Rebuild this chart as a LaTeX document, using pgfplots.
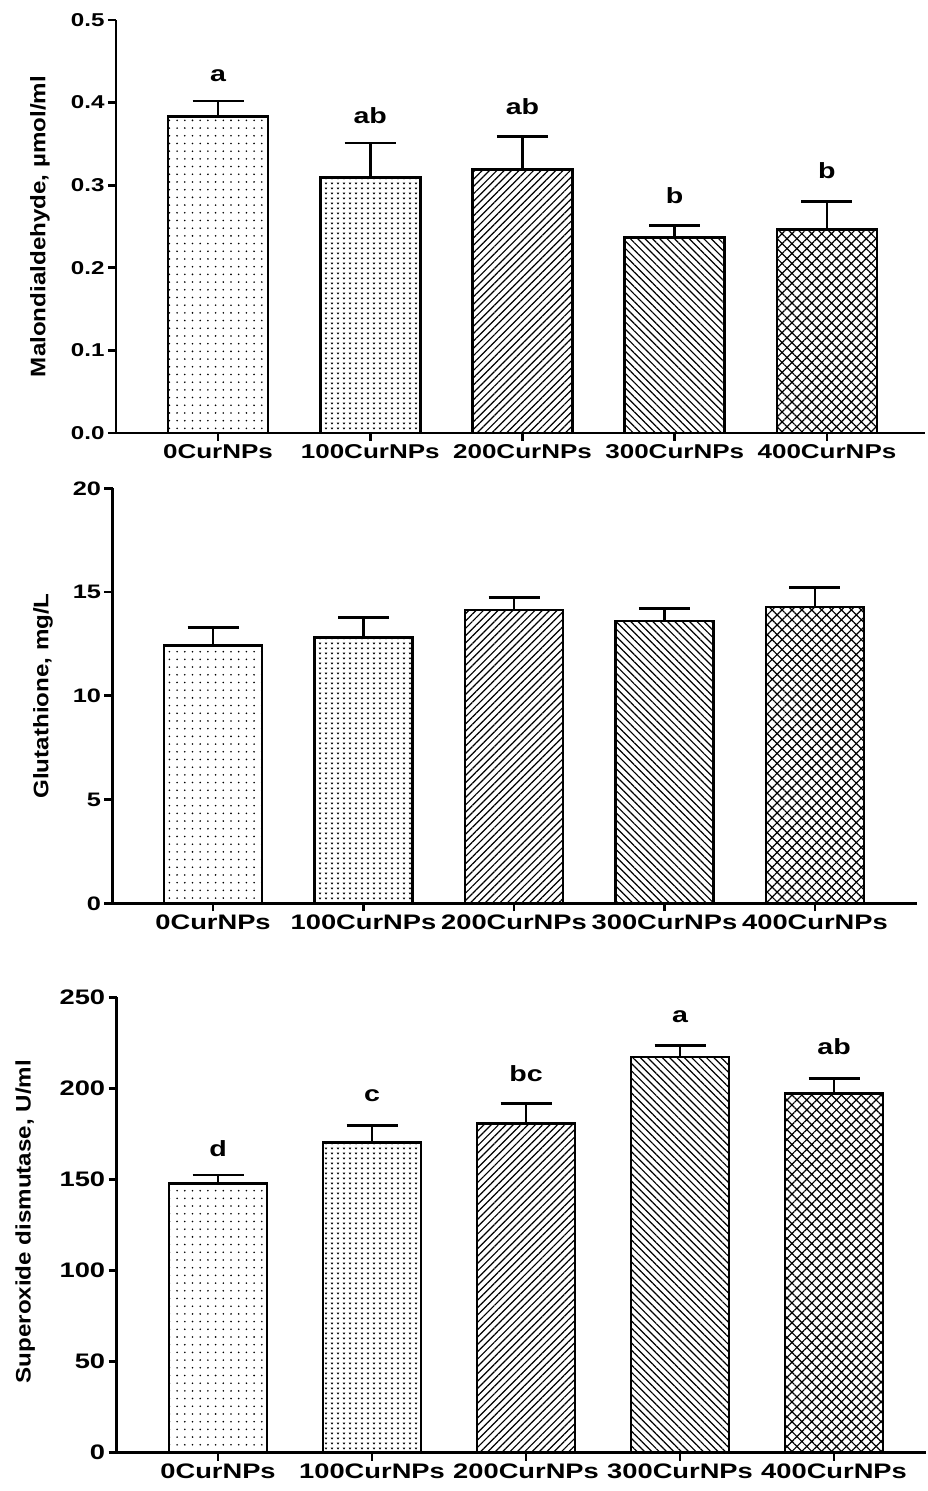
\documentclass[border=0pt]{standalone}
\usepackage{fontspec}
\usepackage{pgfplots}
\pgfplotsset{compat=1.18}
\usetikzlibrary{patterns.meta}
\newfontfamily\fA{Liberation Sans}[FakeStretch=1.3]
\newfontfamily\fB{Liberation Sans}[FakeStretch=1.15]

\tikzdeclarepattern{
  name=vdots,
  type=uncolored,
  bottom left={(-.5pt,-.5pt)},
  top right={(6.5pt,5.5pt)},
  tile size={(6pt,5pt)},
  code={
    \tikzset{x=1pt,y=1pt}
    \draw[line width=0.7pt] (1.0,3.4) -- (2,2) -- (3.0,3.4);
  }
}

\tikzset{
  pA/.style={pattern={Dots[radius=0.9pt,distance=7.7pt]}},
  pB/.style={pattern=vdots},
  pC/.style={pattern={Lines[angle=45,distance=5.2pt,line width=1.2pt]}},
  pD/.style={pattern={Lines[angle=-45,distance=5.2pt,line width=1.2pt]}},
  pE/.style={pattern={Hatch[angle=45,distance=7pt,line width=1.2pt]}},
}

\pgfplotsset{
  panel/.style={
    scale only axis,
    axis x line*=bottom, axis y line*=left,
    axis line style={line width=2.8pt, -},
    tick style={line width=2.8pt, black},
    major tick length=8pt,
    tick align=outside,
    xtick={0,1,2,3,4},
    xticklabels={0CurNPs,100CurNPs,200CurNPs,300CurNPs,400CurNPs},
    ymin=0,
    /pgf/number format/assume math mode=true,
    ybar, bar shift=0pt,
    clip=false,
    ylabel style={font=\fB\bfseries\fontsize{21}{24}\selectfont},
  },
  bstyle/.style={draw=black, line width=2.8pt, #1,
    error bars/.cd, y dir=plus, y explicit,
    error bar style={line width=2.8pt, black},
    error mark options={rotate=90, mark size=25.5pt, line width=2.8pt, black}},
}

\begin{document}
\begin{tikzpicture}
\path[use as bounding box] (0,0) rectangle (927pt,1491pt);

% ---------------- Panel 1: Malondialdehyde
\begin{axis}[panel,
  at={(116pt,1058pt)}, anchor=south west,
  width=809pt, height=413pt,
  xmin=-0.670, xmax=4.644, ymax=0.5,
  bar width=100pt,
  ytick={0,0.1,0.2,0.3,0.4,0.5},
  yticklabels={0.0,0.1,0.2,0.3,0.4,0.5},
  xticklabel style={font=\fA\bfseries\fontsize{20}{24}\selectfont},
  yticklabel style={font=\fA\bfseries\fontsize{18.6}{22}\selectfont},
  ylabel={Malondialdehyde, µmol/ml},
  ylabel style={at={(axis description cs:-0.094,0.5)}, anchor=center},
]
\addplot[bstyle=pA] coordinates {(0,0.383) +- (0,0.019)};
\addplot[bstyle=pB] coordinates {(1,0.309) +- (0,0.042)};
\addplot[bstyle=pC] coordinates {(2,0.319) +- (0,0.040)};
\addplot[bstyle=pD] coordinates {(3,0.237) +- (0,0.014)};
\addplot[bstyle=pE] coordinates {(4,0.246) +- (0,0.034)};
\begin{scope}[every node/.style={font=\fA\bfseries\fontsize{22}{24}\selectfont, anchor=base}]
\node at (axis cs:0,0.4253) {a};
\node at (axis cs:1,0.375) {ab};
\node at (axis cs:2,0.385) {ab};
\node at (axis cs:3,0.278) {b};
\node at (axis cs:4,0.3075) {b};
\end{scope}
\end{axis}

% ---------------- Panel 2: Glutathione
\begin{axis}[panel,
  at={(112.5pt,587.5pt)}, anchor=south west,
  width=804.5pt, height=415.2pt,
  xmin=-0.668, xmax=4.678, ymax=20,
  bar width=98pt,
  ytick={0,5,10,15,20},
  yticklabels={0,5,10,15,20},
  xticklabel style={font=\fA\bfseries\fontsize{21}{24}\selectfont},
  yticklabel style={font=\fA\bfseries\fontsize{19.5}{22}\selectfont},
  ylabel={Glutathione, mg/L},
  ylabel style={at={(axis description cs:-0.0864,0.5)}, anchor=center},
]
\addplot[bstyle=pA] coordinates {(0,12.42) +- (0,0.87)};
\addplot[bstyle=pB] coordinates {(1,12.82) +- (0,0.95)};
\addplot[bstyle=pC] coordinates {(2,14.14) +- (0,0.61)};
\addplot[bstyle=pD] coordinates {(3,13.61) +- (0,0.59)};
\addplot[bstyle=pE] coordinates {(4,14.28) +- (0,0.96)};
\end{axis}

% ---------------- Panel 3: Superoxide dismutase
\begin{axis}[panel,
  at={(116.7pt,38.5pt)}, anchor=south west,
  width=809.3pt, height=455.2pt,
  xmin=-0.658, xmax=4.597, ymax=250,
  bar width=98pt,
  ytick={0,50,100,150,200,250},
  yticklabels={0,50,100,150,200,250},
  xticklabel style={font=\fA\bfseries\fontsize{21}{24}\selectfont},
  yticklabel style={font=\fA\bfseries\fontsize{21}{24}\selectfont},
  ylabel={Superoxide dismutase, U/ml},
  ylabel style={at={(axis description cs:-0.113,0.507)}, anchor=center},
]
\addplot[bstyle=pA] coordinates {(0,147.6) +- (0,4.8)};
\addplot[bstyle=pB] coordinates {(1,170.3) +- (0,9.2)};
\addplot[bstyle=pC] coordinates {(2,180.8) +- (0,10.8)};
\addplot[bstyle=pD] coordinates {(3,217.2) +- (0,6.3)};
\addplot[bstyle=pE] coordinates {(4,197.0) +- (0,8.5)};
\begin{scope}[every node/.style={font=\fA\bfseries\fontsize{22}{24}\selectfont, anchor=base}]
\node at (axis cs:0,162.3) {d};
\node at (axis cs:1,192.9) {c};
\node at (axis cs:2,204.0) {bc};
\node at (axis cs:3,236.0) {a};
\node at (axis cs:4,218.5) {ab};
\end{scope}
\end{axis}
\end{tikzpicture}
\end{document}
